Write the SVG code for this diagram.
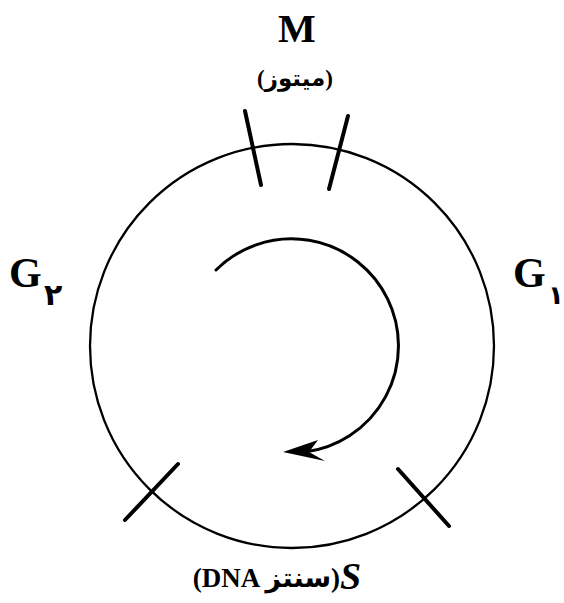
<svg xmlns="http://www.w3.org/2000/svg" width="564" height="603" viewBox="0 0 564 603">
<style>
.ln{fill:none;stroke:#000;stroke-linecap:round}
.lbl{font-family:"Liberation Serif","DejaVu Serif",serif;font-weight:bold;fill:#000}
.fa{font-family:"Liberation Serif","DejaVu Sans",serif;font-weight:bold;fill:#000}
.num{font-family:"DejaVu Sans","Noto Sans",sans-serif;font-weight:bold;fill:#000}
</style>
<rect width="564" height="603" fill="#fff"/>
<g id="cycle">
<circle class="ln" cx="292" cy="346" r="202" stroke-width="2.3"/>
</g>
<g id="connectors">
<line class="ln" x1="245" y1="111" x2="261" y2="185" stroke-width="4"/>
<line class="ln" x1="348" y1="116" x2="329" y2="189" stroke-width="4"/>
<line class="ln" x1="178" y1="464" x2="125" y2="520" stroke-width="4"/>
<line class="ln" x1="398" y1="469" x2="449" y2="526" stroke-width="4"/>
<path class="ln" d="M216,270 A107,107 0 1 1 305,452" stroke-width="3"/>
<path d="M283,452 L318,440 L309,452 L325,461 Z" fill="#000"/>
</g>
<g id="M">
<text class="lbl" x="297" y="42" font-size="40" text-anchor="middle">M</text>
<text class="fa" x="295" y="86" font-size="23" text-anchor="middle" direction="ltr">(میتوز)</text>
</g>
<g id="G2">
<text class="lbl" x="9" y="287" font-size="42">G</text>
<text class="num" x="44" y="305" font-size="30">۲</text>
</g>
<g id="G1">
<text class="lbl" x="513" y="287" font-size="42">G</text>
<text class="num" x="548" y="304" font-size="26">۱</text>
</g>
<g id="S">
<text class="fa" x="340" y="587" font-size="27" text-anchor="end" direction="ltr">(DNA سنتز)</text>
<text class="lbl" x="340" y="589" font-size="38" font-style="italic">S</text>
</g>
</svg>
